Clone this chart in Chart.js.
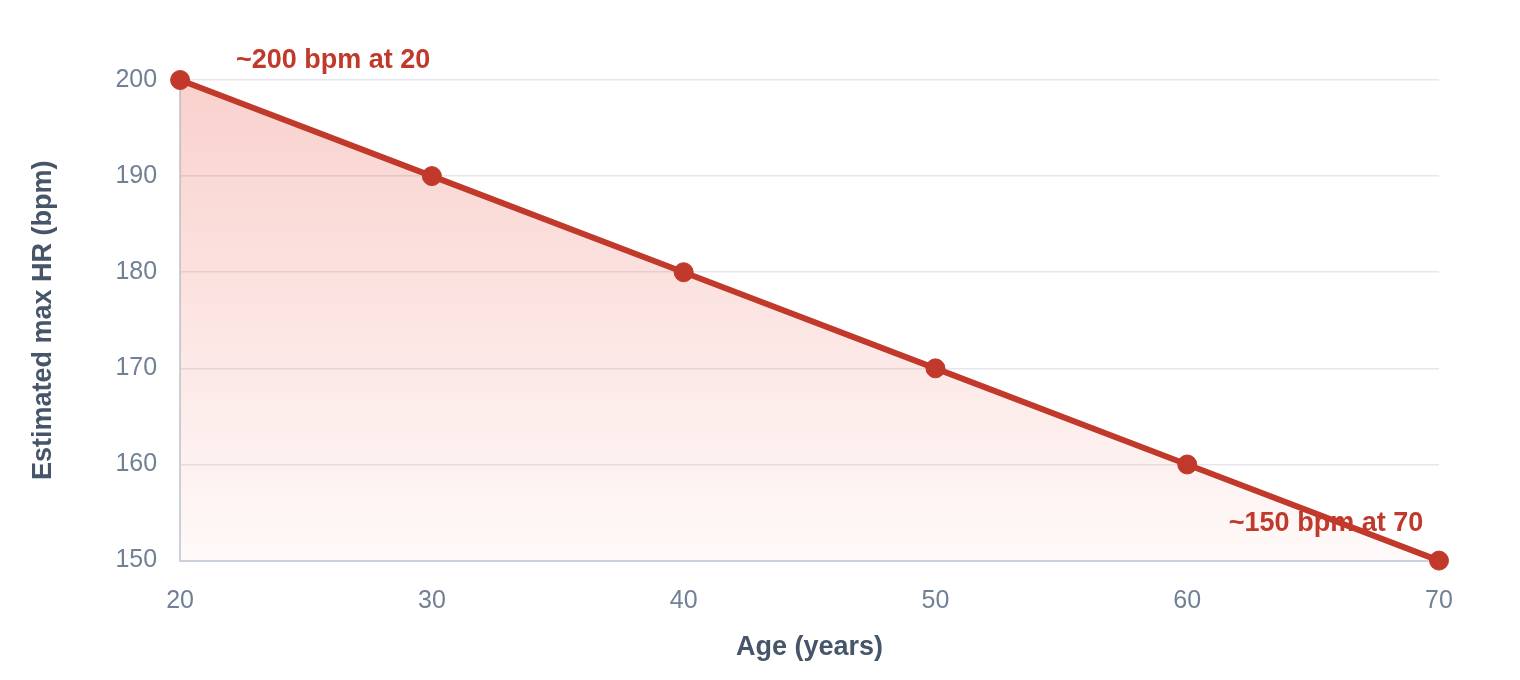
<!DOCTYPE html>
<html>
<head>
<meta charset="utf-8">
<script src="https://cdn.jsdelivr.net/npm/chart.js@4"></script>
<style>
  html, body { margin: 0; padding: 0; background: #ffffff; }
  #wrap { width: 1520px; height: 680px; }
</style>
</head>
<body>
<div id="wrap"><canvas id="hr"></canvas></div>
<script>
// dati
var eta = [20, 30, 40, 50, 60, 70];
var maxHR = [200, 190, 180, 170, 160, 150];
var etichette = [
    { testo: '~200 bpm at 20', x: 20, y: 200, dx: 153, dy: -19 },
    { testo: '~150 bpm at 70', x: 70, y: 150, dx: -113, dy: -37 }
];

var rosso = '#c0392b';
var fontFam = '"Liberation Sans", Arial, sans-serif';

// plugin per le scritte sul grafico
var notePlugin = {
    id: 'note',
    afterDatasetsDraw: function(chart) {
        var ctx = chart.ctx;
        var sx = chart.scales.x;
        var sy = chart.scales.y;
        ctx.save();
        ctx.font = 'bold 27px ' + fontFam;
        ctx.fillStyle = rosso;
        ctx.textAlign = 'center';
        ctx.textBaseline = 'middle';
        etichette.forEach(function(e) {
            ctx.fillText(e.testo, sx.getPixelForValue(e.x) + e.dx, sy.getPixelForValue(e.y) + e.dy);
        });
        ctx.restore();
    }
};

var punti = eta.map(function(a, i) { return { x: a, y: maxHR[i] }; });

var chart = new Chart(document.getElementById('hr'), {
    type: 'line',
    data: {
        datasets: [{
            data: punti,
            borderColor: rosso,
            borderWidth: 6,
            pointRadius: 9.5,
            pointHoverRadius: 9.5,
            pointBackgroundColor: rosso,
            pointBorderColor: rosso,
            pointBorderWidth: 1,
            tension: 0,
            clip: false,
            fill: 'origin',
            backgroundColor: function(context) {
                var area = context.chart.chartArea;
                if (!area) return 'rgba(231,76,60,0.2)';
                var g = context.chart.ctx.createLinearGradient(0, area.top, 0, area.bottom);
                g.addColorStop(0, 'rgba(231,76,60,0.26)');
                g.addColorStop(1, 'rgba(231,76,60,0.03)');
                return g;
            }
        }]
    },
    options: {
        responsive: true,
        maintainAspectRatio: false,
        animation: false,
        layout: { padding: { left: 0, right: 81, top: 80, bottom: 0 } },
        plugins: {
            legend: { display: false },
            tooltip: { enabled: false }
        },
        scales: {
            x: {
                type: 'linear',
                min: 20,
                max: 70,
                ticks: {
                    stepSize: 10,
                    color: '#718096',
                    font: { size: 25, family: fontFam },
                    padding: 26
                },
                grid: { display: false, drawTicks: false },
                border: { display: true, color: '#cbd2dc', width: 2 },
                title: {
                    display: true,
                    text: 'Age (years)',
                    color: '#465569',
                    font: { size: 27, weight: 'bold', family: fontFam },
                    padding: { top: -11, bottom: 16 }
                }
            },
            y: {
                min: 150,
                max: 200,
                ticks: {
                    stepSize: 10,
                    color: '#718096',
                    font: { size: 25, family: fontFam },
                    padding: 23
                },
                grid: { color: '#e6e6f0', lineWidth: 1.5, drawTicks: false },
                border: { display: true, color: '#cbd2dc', width: 2 },
                title: {
                    display: true,
                    text: 'Estimated max HR (bpm)',
                    color: '#465569',
                    font: { size: 27, weight: 'bold', family: fontFam },
                    padding: { top: 27, bottom: 33 }
                }
            }
        }
    },
    plugins: [notePlugin]
});
</script>
</body>
</html>
